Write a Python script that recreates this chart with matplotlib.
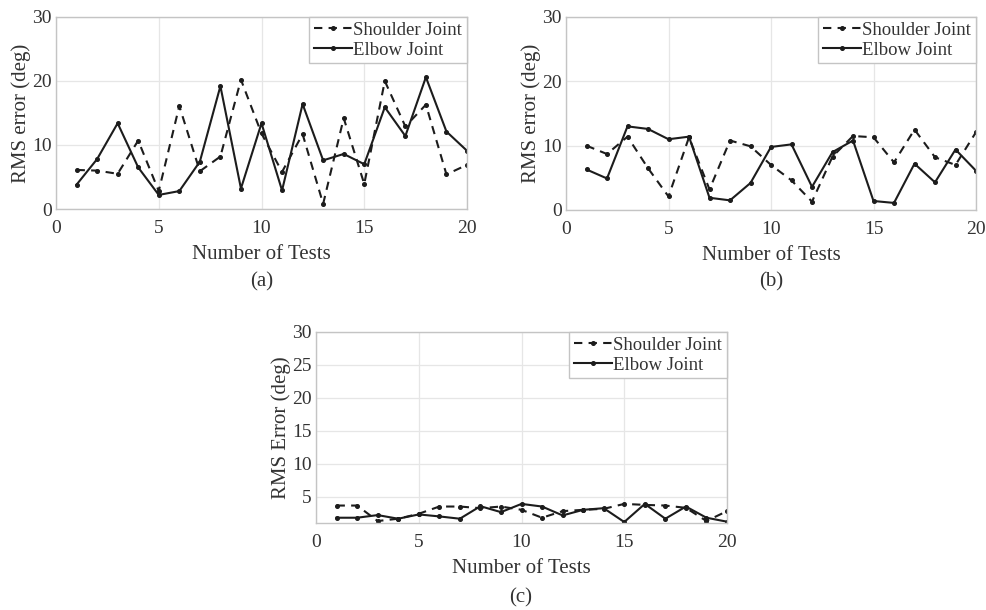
import matplotlib
matplotlib.use("Agg")
import matplotlib.pyplot as plt

tests = list(range(1, 21))

shoulder_a = [6.1, 6.0, 5.5, 10.7, 2.8, 16.1, 5.9, 8.2, 20.2, 11.8,
              5.8, 11.7, 0.8, 14.2, 3.9, 20.0, 12.9, 16.3, 5.4, 6.9]
elbow_a = [3.8, 7.8, 13.4, 6.5, 2.2, 2.8, 7.4, 19.2, 3.2, 13.4,
           2.9, 16.4, 7.6, 8.6, 7.0, 15.9, 11.4, 20.6, 12.1, 9.1]

shoulder_b = [10.0, 8.7, 11.4, 6.5, 2.1, 11.3, 3.2, 10.8, 9.9, 7.0,
              4.6, 1.3, 8.3, 11.5, 11.3, 7.4, 12.5, 8.2, 7.0, 12.1]
elbow_b = [6.3, 4.9, 13.0, 12.6, 11.0, 11.4, 1.9, 1.5, 4.2, 9.8,
           10.2, 3.6, 9.0, 10.8, 1.4, 1.1, 7.2, 4.3, 9.4, 6.1]

shoulder_c = [3.65, 3.65, 1.3, 1.65, 2.4, 3.5, 3.5, 3.25, 3.5, 3.0,
              1.8, 2.8, 3.0, 3.15, 3.9, 3.75, 3.65, 3.3, 1.3, 2.8]
elbow_c = [1.8, 1.8, 2.2, 1.65, 2.3, 2.0, 1.65, 3.55, 2.65, 3.9,
           3.5, 2.15, 3.0, 3.25, 1.15, 3.9, 1.65, 3.5, 1.8, 1.2]

xticks = [0, 5, 10, 15, 20]
yticks_ab = [0, 10, 20, 30]
yticks_c = [5, 10, 15, 20, 25, 30]
legend_labels = ["Shoulder Joint", "Elbow Joint"]
ylabels = ["RMS error (deg)", "RMS error (deg)", "RMS Error (deg)"]
xlabel = "Number of Tests"
panel_tags = ["(a)", "(b)", "(c)"]

plt.rcParams['font.family'] = ['Liberation Serif', 'DejaVu Serif']

W, H = 986, 610
fig = plt.figure(figsize=(W / 100, H / 100), dpi=100)

def px_axes(x0, y0, x1, y1):
    return fig.add_axes([x0 / W, 1 - y1 / H, (x1 - x0) / W, (y1 - y0) / H])

axes = [px_axes(56, 17, 467, 209), px_axes(566, 17, 976, 210), px_axes(316, 332, 727, 523)]
data = [(shoulder_a, elbow_a), (shoulder_b, elbow_b), (shoulder_c, elbow_c)]
ylims = [(0, 30), (0, 30), (1, 30)]
yticks_all = [yticks_ab, yticks_ab, yticks_c]
tag_pos = [(262, 282), (771, 282), (521, 598)]

line_col = "#1c1c1c"
for i, ax in enumerate(axes):
    s, e = data[i]
    ax.plot(tests, s, linestyle=(0, (4, 3)), color=line_col, lw=1.5,
            marker='o', markersize=2.6, label=legend_labels[0])
    ax.plot(tests, e, linestyle='-', color=line_col, lw=1.5,
            marker='o', markersize=2.6, label=legend_labels[1])
    ax.set_xlim(0, 20)
    ax.set_ylim(*ylims[i])
    ax.set_xticks(xticks)
    ax.set_yticks(yticks_all[i])
    ax.grid(True, color="#e6e6e6", lw=0.9)
    ax.set_axisbelow(True)
    for sp in ax.spines.values():
        sp.set_color("#c4c4c4")
        sp.set_linewidth(1.0)
    ax.tick_params(direction='in', length=0, labelsize=14, colors="#333333")
    ax.tick_params(axis='x', pad=8)
    ax.tick_params(axis='y', pad=3)
    ax.set_xlabel(xlabel, fontsize=15, color="#333333", labelpad=6)
    ax.set_ylabel(ylabels[i], fontsize=15, color="#333333", labelpad=1)
    leg = ax.legend(loc='upper right', borderaxespad=0, fontsize=13.5,
                    handlelength=2.0, handletextpad=0.1, borderpad=0.25,
                    labelspacing=0.15, fancybox=False, framealpha=1)
    leg.get_frame().set_edgecolor("#c4c4c4")
    leg.get_frame().set_linewidth(1.0)
    for t in leg.get_texts():
        t.set_color("#333333")
    tx, ty = tag_pos[i]
    fig.text(tx / W, 1 - ty / H, panel_tags[i], fontsize=15, color="#333333",
             ha='center', va='center')

fig.savefig("out.png", dpi=100)
